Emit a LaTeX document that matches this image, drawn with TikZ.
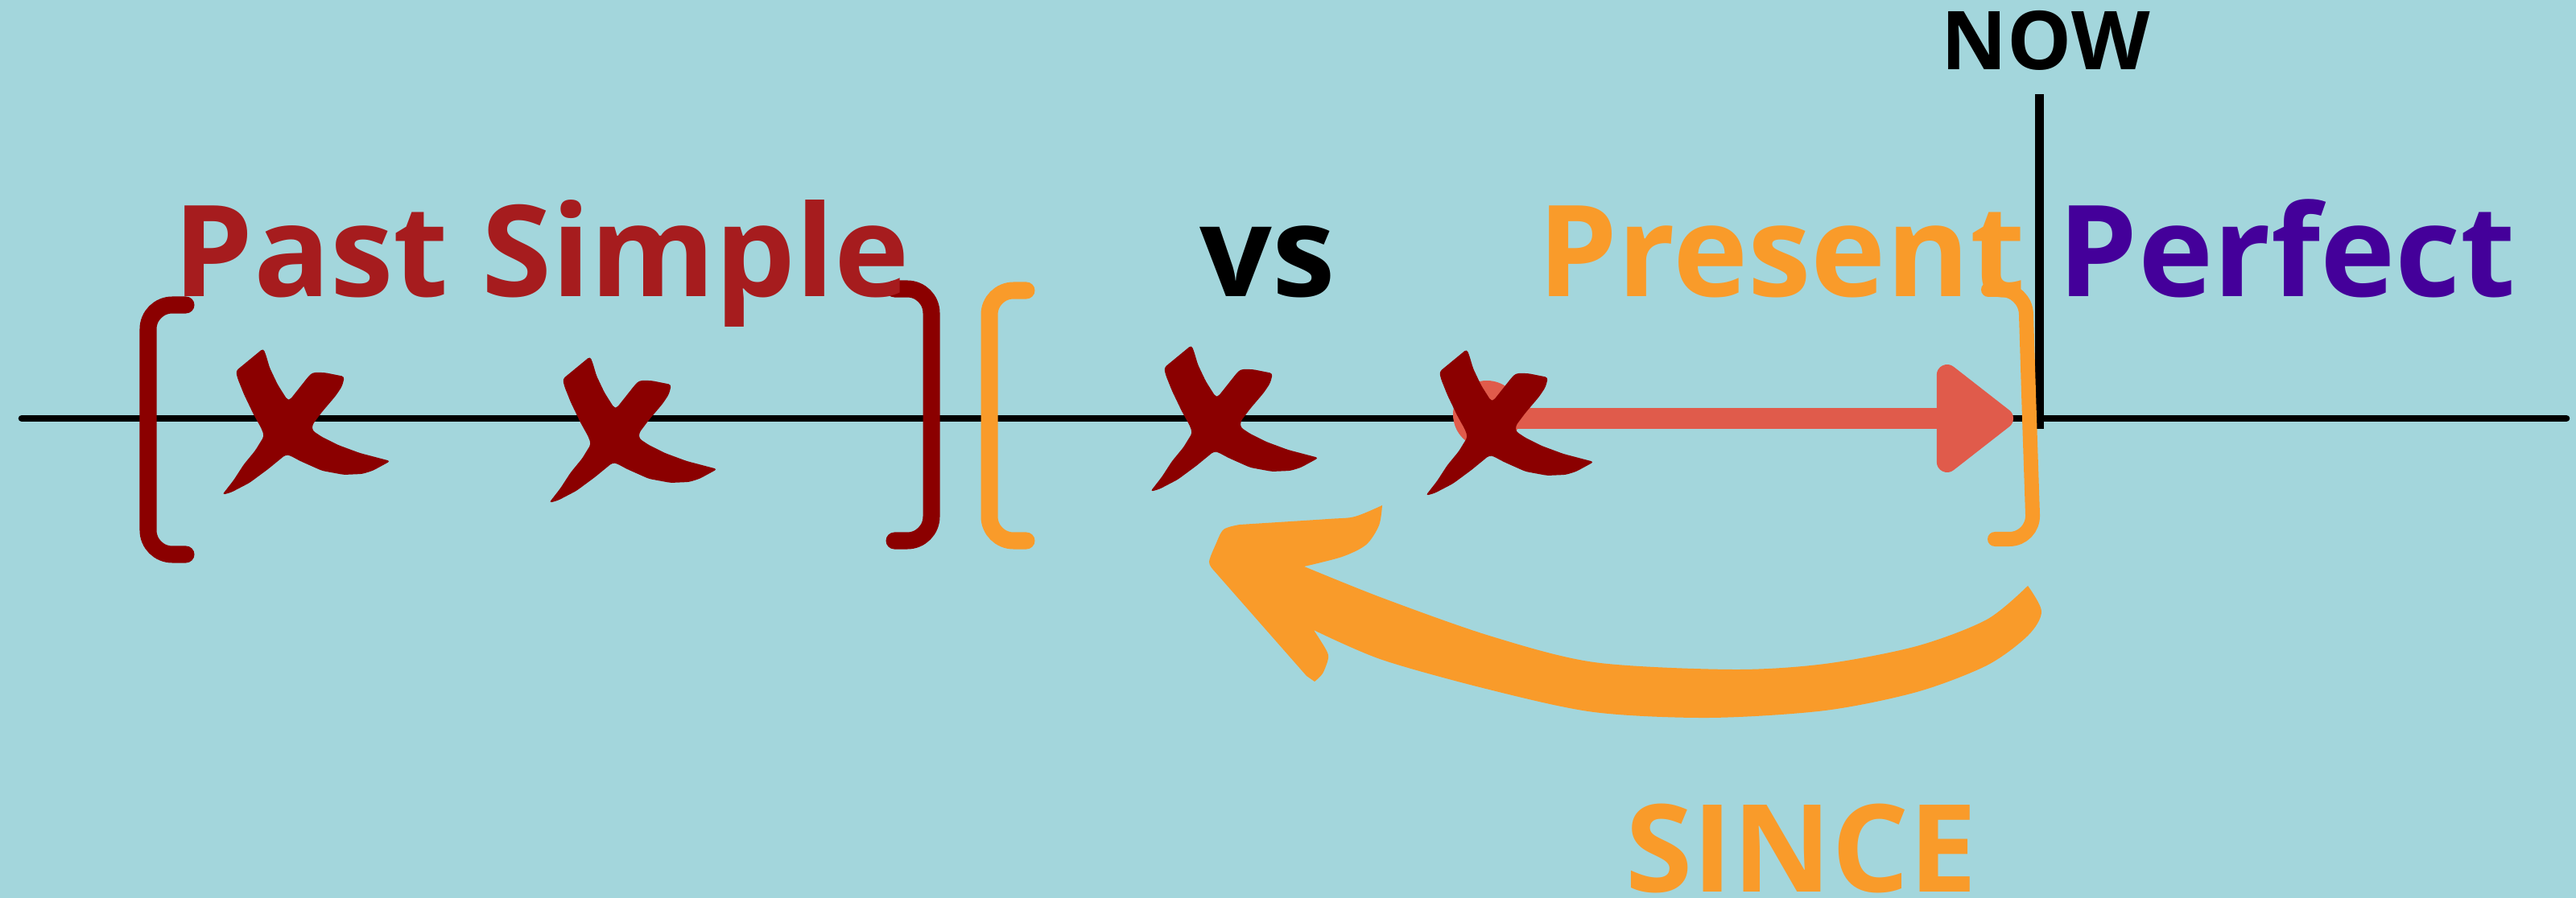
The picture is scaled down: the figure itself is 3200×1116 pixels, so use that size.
\documentclass[tikz,border=0pt]{standalone}
\usepackage{fontspec}
\setmainfont{Open Sans}
\usetikzlibrary{arrows.meta}
\definecolor{water}{RGB}{163,214,220}
\definecolor{pastred}{RGB}{166,28,30}
\definecolor{crossred}{RGB}{139,0,0}
\definecolor{sinceorange}{RGB}{249,155,42}
\definecolor{arrowred}{RGB}{224,91,75}
\definecolor{perfectpurple}{RGB}{68,0,154}
\def\cross(#1){\fill[crossred, shift={(#1)}, rounded corners=1pt] (-33,-97) -- (-67,-69) -- (-65,-60) -- (-57,-40) -- (-45,-15) -- (-35,3) -- (-32,12) -- (-43,30) -- (-57,47) -- (-70,67) -- (-84,85) -- (-73,82) -- (-50,70) -- (-27,53) -- (-5,35) -- (0,36) -- (13,43) -- (40,55) -- (67,60) -- (90,59) -- (103,55) -- (125,43) -- (87,33) -- (60,23) -- (40,13) -- (28,5) -- (28,-2) -- (40,-18) -- (57,-38) -- (65,-50) -- (68,-62) -- (43,-67) -- (28,-67) -- (23,-62) -- (0,-33) -- (-3,-33) -- (-15,-52) -- (-25,-73) -- (-30,-90) -- cycle;}
\tikzset{
	word/.style={inner sep=0, anchor=base, font=\bfseries\fontsize{44.9}{50}\selectfont},
	bracket/.style={line width=0.21cm, line cap=round, rounded corners=0.3cm},
}

\begin{document}
\begin{tikzpicture}[x=0.01cm, y=-0.01cm]
			%%%%% START %%%%%
			
			\fill[water] (0,0) rectangle (3200,1116);
			\useasboundingbox (0,0) rectangle (3200,1116);
			
			\coordinate (lineleft) at (27,520);
			\coordinate (lineright) at (3188,520);
			\draw[line width=0.085cm, line cap=round] (lineleft) -- (lineright);
			
			\coordinate (nowtop) at (2533,117);
			\coordinate (nowfoot) at (2533,533);
			\draw[line width=0.11cm] (nowtop) -- (nowfoot);
			
			\draw[bracket, crossred] (231,379) -- (184,379) -- (184,689) -- (231,689);
			\draw[bracket, crossred] (1111,359) -- (1157,359) -- (1157,672) -- (1111,672);
			\draw[bracket, sinceorange] (1275,361) -- (1229,361) -- (1229,672) -- (1275,672);
			\draw[bracket, sinceorange, line width=0.18cm] (2470,360) -- (2516,360) -- (2521,520) -- (2526,670) -- (2478,670);
			
			\coordinate (dot) at (1847,515);
			\coordinate (redtip) at (2501,520);
			\fill[arrowred] (dot) circle (42);
			\draw[arrowred, line width=0.26cm, -{Triangle[length=1.04cm, width=1.54cm, round]}] (dot |- redtip) -- (redtip);
			
			\coordinate (x1) at (360,530);
			\coordinate (x2) at (766,540);
			\coordinate (x3) at (1513,526);
			\coordinate (x4) at (1855,531);
			\cross(x1)
			\cross(x2)
			\cross(x3)
			\cross(x4)
			
			\fill[sinceorange] plot[smooth] coordinates {(2519,728) (2536,760) (2519,790) (2468,827) (2381,860) (2267,883) (2123,892) (1980,885) (1850,857) (1717,820) (1632,783)}
				-- plot[smooth] coordinates {(1632,783) (1647,807) (1650,818) (1643,837) (1633,847)}
				-- (1623,840) -- plot[smooth] coordinates {(1507,708) (1502,698) (1510,677) (1520,658) (1540,652)}
				-- plot[smooth] coordinates {(1540,652) (1650,645) (1683,642) (1717,628)}
				-- plot[smooth] coordinates {(1717,628) (1713,653) (1697,677) (1667,692) (1620,704)}
				-- plot[smooth] coordinates {(1620,704) (1717,743) (1850,790) (1980,823) (2152,832) (2267,825) (2381,803) (2468,770) (2519,728)} -- cycle;
			
			\node[word, pastred] (past) at (673,369) {Past Simple};
			\node[word, black] (vs) at (1575,369) {vs};
			\node[word, sinceorange] (present) at (2213,369) {Present};
			\node[word, perfectpurple] (perfect) at (2841,369) {Perfect};
			\node[word, black, font=\bfseries\fontsize{28.7}{32}\selectfont] (now) at (2541,87) {NOW};
			\node[word, sinceorange, font=\bfseries\fontsize{43}{48}\selectfont] (since) at (2238,1108) {SINCE};
			
			%%%%% END %%%%%
\end{tikzpicture}
\end{document}
